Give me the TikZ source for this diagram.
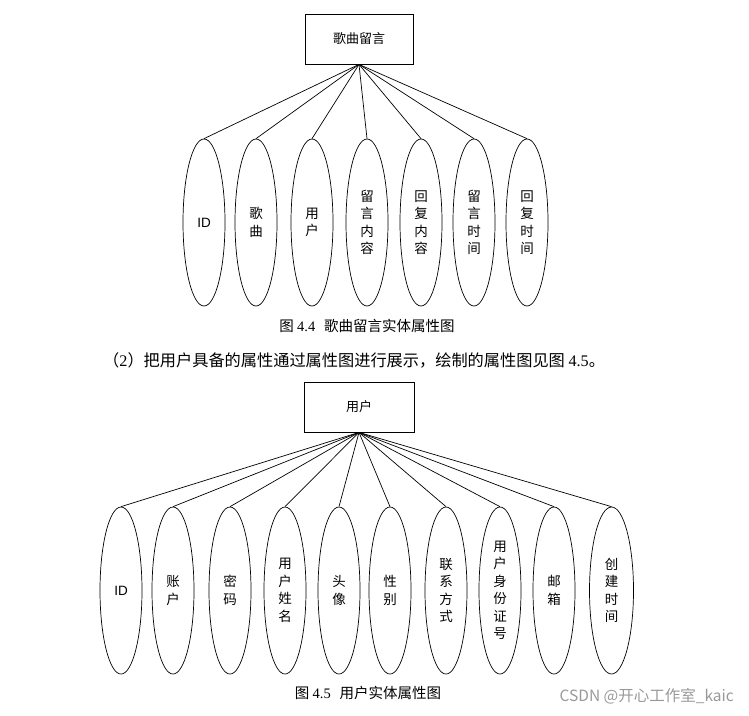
\documentclass[tikz,border=0pt]{standalone}
\usepackage{fontspec}
\usetikzlibrary{shapes.geometric}
\setmainfont{Liberation Serif}
\newfontfamily\cjk{Noto Sans CJK SC}
\newfontfamily\lat{Liberation Sans}
\begin{document}
\begin{tikzpicture}[x=1pt,y=-1pt,
  ent/.style={draw,line width=0.8pt,minimum width=108pt,minimum height=50pt,inner sep=0pt,font=\cjk\fontsize{13}{15}\selectfont},
  attr/.style={draw,ellipse,line width=0.7pt,minimum width=42pt,minimum height=167pt,inner sep=0pt,align=center,font=\cjk\fontsize{13.5}{17.5}\selectfont},
  conn/.style={line width=0.7pt},
  captext/.style={font=\cjk\fontsize{14.5}{16}\selectfont,inner sep=0pt},
  para/.style={font=\cjk\fontsize{16.2}{18}\selectfont,inner sep=0pt}]
\useasboundingbox (0,0) rectangle (749,715);
% ---- top diagram ----
\node[ent] (m) at (359,39) {歌曲留言};
\node[attr] (a1) at (204,222.5) {\lat ID};
\node[attr] (a2) at (256,222.5) {歌\\曲};
\node[attr] (a3) at (312,222.5) {用\\户};
\node[attr] (a4) at (367,222.5) {留\\言\\内\\容};
\node[attr] (a5) at (421,222.5) {回\\复\\内\\容};
\node[attr] (a6) at (474,222.5) {留\\言\\时\\间};
\node[attr] (a7) at (527,222.5) {回\\复\\时\\间};
\foreach \i in {1,...,7} \draw[conn] (m.south) -- (a\i.north);
\node[captext] (c1) at (367,326) {图 {\rmfamily 4.4}\hspace{0.6em}歌曲留言实体属性图};
\node[para,anchor=west] (p) at (103,360) {（{\rmfamily 2}）把用户具备的属性通过属性图进行展示，绘制的属性图见图 {\rmfamily 4.5}。};
% ---- bottom diagram ----
\node[ent,minimum width=110pt] (u) at (359,407) {用户};
\node[attr] (b1) at (121,590.5) {\lat ID};
\node[attr] (b2) at (173,590.5) {账\\户};
\node[attr] (b3) at (230,590.5) {密\\码};
\node[attr] (b4) at (285,590.5) {用\\户\\姓\\名};
\node[attr] (b5) at (339,590.5) {头\\像};
\node[attr] (b6) at (390,590.5) {性\\别};
\node[attr] (b7) at (446,590.5) {联\\系\\方\\式};
\node[attr] (b8) at (500,590.5) {用\\户\\身\\份\\证\\号};
\node[attr] (b9) at (554,590.5) {邮\\箱};
\node[attr,minimum width=44pt] (b10) at (611.5,590.5) {创\\建\\时\\间};
\foreach \i in {1,...,10} \draw[conn] (u.south) -- (b\i.north);
\node[captext] (c2) at (368,693) {图 {\rmfamily 4.5}\hspace{0.6em}用户实体属性图};
\node[anchor=east,inner sep=0pt,text=black!40,font=\cjk\fontsize{15.5}{17}\selectfont] (w) at (734,696) {CSDN @开心工作室\_kaic};
\end{tikzpicture}
\end{document}
